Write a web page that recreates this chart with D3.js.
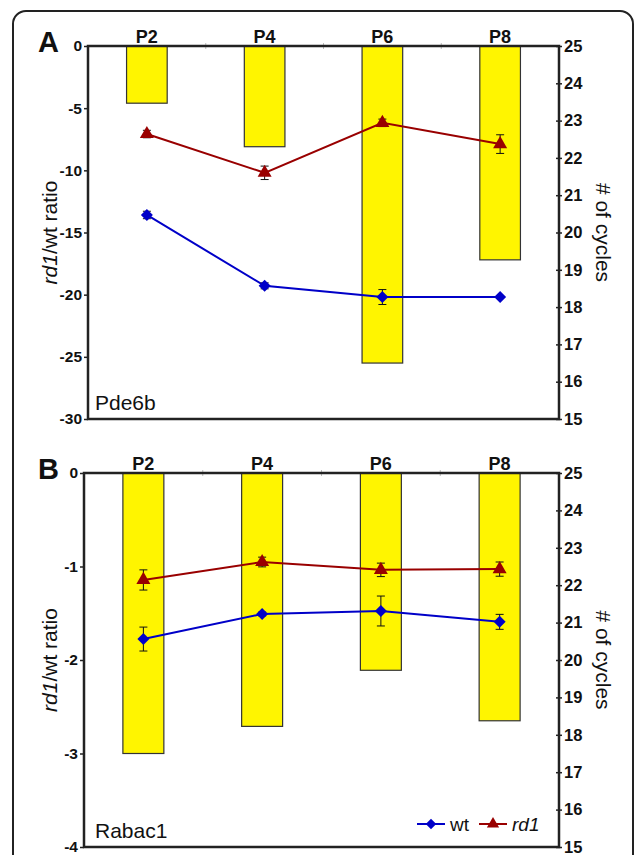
<!DOCTYPE html>
<html>
<head>
<meta charset="utf-8">
<script src="https://cdn.jsdelivr.net/npm/d3@7"></script>
<style>
  body { margin: 0; background: #fff; }
  svg { display: block; font-family: "Liberation Sans", Arial, sans-serif; }
</style>
</head>
<body>
<svg id="chart" width="635" height="855"></svg>
<script>
// qPCR: rd1/wt ratio (bars) and # of cycles (lines)

const stages = ['P2', 'P4', 'P6', 'P8'];
const cycleTicks = [15, 16, 17, 18, 19, 20, 21, 22, 23, 24, 25];

// Panel A - Pde6b
const pde6bRatio = [-4.6, -8.1, -25.5, -17.2];
const pde6bWt = [20.47, 18.57, 18.27, 18.27];
const pde6bWtErr = [0.1, 0.08, 0.2, 0];
const pde6bRd1 = [22.64, 21.6, 22.94, 22.37];
const pde6bRd1Err = [0.1, 0.18, 0.1, 0.25];
const ratioTicksA = [0, -5, -10, -15, -20, -25, -30];

// Panel B - Rabac1
const rabac1Ratio = [-3.0, -2.71, -2.11, -2.65];
const rabac1Wt = [20.56, 21.23, 21.31, 21.02];
const rabac1WtErr = [0.32, 0.05, 0.4, 0.2];
const rabac1Rd1 = [22.14, 22.62, 22.41, 22.43];
const rabac1Rd1Err = [0.27, 0.13, 0.18, 0.19];
const ratioTicksB = [0, -1, -2, -3, -4];

const WT_COLOR = '#0000c8';
const RD1_COLOR = '#990000';
const BAR_COLOR = '#fff500';
const FONT = '"Liberation Sans", Arial, sans-serif';

const svg = d3.select('#chart');

// outer rounded frame
svg.append('rect')
    .attr('x', 13).attr('y', 11)
    .attr('width', 620).attr('height', 870)
    .attr('rx', 13)
    .attr('fill', 'none')
    .attr('stroke', '#222')
    .attr('stroke-width', 2);

// diamond = square turned 45deg
function marker(shape, size) {
    const p = d3.symbol().type(shape === 'diamond' ? d3.symbolSquare : d3.symbolTriangle).size(size)();
    return { d: p, rot: shape === 'diamond' ? 45 : 0 };
}

function drawPanel(cfg) {
    const g = svg.append('g');

    const x = d3.scaleBand()
        .domain(stages)
        .range([cfg.left, cfg.right])
        .paddingInner(0.655)
        .paddingOuter(0.3275);

    const yL = d3.scaleLinear()
        .domain([d3.min(cfg.ratioTicks), 0])
        .range([cfg.bottom, cfg.top]);

    const yR = d3.scaleLinear()
        .domain([15, 25])
        .range([cfg.bottom, cfg.top]);

    const cx = d => x(d) + x.bandwidth() / 2;

    // faint tick marks at band boundaries on top edge
    const bw = (cfg.right - cfg.left) / stages.length;
    g.selectAll('.sep')
        .data(d3.range(1, stages.length))
        .enter().append('line')
        .attr('x1', i => cfg.left + i * bw)
        .attr('x2', i => cfg.left + i * bw)
        .attr('y1', cfg.top - 3)
        .attr('y2', cfg.top + 3)
        .attr('stroke', '#bbb')
        .attr('stroke-width', 1);

    // bars hanging from 0
    g.selectAll('.bar')
        .data(cfg.ratio)
        .enter().append('rect')
        .attr('x', (d, i) => x(stages[i]))
        .attr('y', yL(0))
        .attr('width', x.bandwidth())
        .attr('height', d => yL(d) - yL(0))
        .attr('fill', BAR_COLOR)
        .attr('stroke', '#333')
        .attr('stroke-width', 1.2);

    // plot frame
    g.append('rect')
        .attr('x', cfg.left).attr('y', cfg.top)
        .attr('width', cfg.right - cfg.left)
        .attr('height', cfg.bottom - cfg.top)
        .attr('fill', 'none')
        .attr('stroke', '#222')
        .attr('stroke-width', 2.5);

    // left axis
    const axL = g.append('g')
        .attr('transform', `translate(${cfg.left},0)`)
        .call(d3.axisLeft(yL).tickValues(cfg.ratioTicks).tickFormat(d => String(d))
            .tickSize(4).tickPadding(2));
    axL.select('.domain').remove();
    axL.selectAll('line').attr('stroke', '#222').attr('stroke-width', 1.5);
    axL.selectAll('text')
        .attr('font-size', 15.5)
        .attr('font-weight', 'bold')
        .attr('fill', '#111')
        .attr('font-family', FONT);

    // right axis
    const axR = g.append('g')
        .attr('transform', `translate(${cfg.right},0)`)
        .call(d3.axisRight(yR).tickValues(cycleTicks).tickFormat(d => String(d))
            .tickSize(3).tickPadding(2));
    axR.select('.domain').remove();
    axR.selectAll('line').attr('x1', -3).attr('stroke', '#222').attr('stroke-width', 1.5);
    axR.selectAll('text')
        .attr('font-size', 16.5)
        .attr('font-weight', 'bold')
        .attr('fill', '#111')
        .attr('font-family', FONT);

    // stage labels on top
    g.selectAll('.stage')
        .data(stages)
        .enter().append('text')
        .attr('x', d => cx(d))
        .attr('y', cfg.top - 3)
        .attr('text-anchor', 'middle')
        .attr('font-size', 18)
        .attr('font-weight', 'bold')
        .attr('fill', '#111')
        .text(d => d);

    // panel letter
    g.append('text')
        .attr('x', 38).attr('y', cfg.top + 6)
        .attr('font-size', 29)
        .attr('font-weight', 'bold')
        .attr('fill', '#111')
        .text(cfg.letter);

    // gene name
    g.append('text')
        .attr('x', 95).attr('y', cfg.bottom - 9)
        .attr('font-size', 21)
        .attr('fill', '#111')
        .text(cfg.gene);

    // left title
    const midY = (cfg.top + cfg.bottom) / 2;
    const tl = g.append('text')
        .attr('transform', `translate(57,${midY}) rotate(-90)`)
        .attr('text-anchor', 'middle')
        .attr('font-size', 21)
        .attr('fill', '#111');
    tl.append('tspan').attr('font-style', 'italic').text('rd1');
    tl.append('tspan').text('/wt ratio');

    // right title
    g.append('text')
        .attr('transform', `translate(596,${midY}) rotate(90)`)
        .attr('text-anchor', 'middle')
        .attr('font-size', 21)
        .attr('fill', '#111')
        .text('# of cycles');

    // series
    const series = [
        { vals: cfg.wt, err: cfg.wtErr, color: WT_COLOR, shape: 'diamond', size: 72 },
        { vals: cfg.rd1, err: cfg.rd1Err, color: RD1_COLOR, shape: 'triangle', size: 85 }
    ];

    series.forEach(s => {
        const line = d3.line()
            .x((d, i) => cx(stages[i]))
            .y(d => yR(d));

        g.append('path')
            .datum(s.vals)
            .attr('d', line)
            .attr('fill', 'none')
            .attr('stroke', s.color)
            .attr('stroke-width', 2);

        // error bars
        const eb = g.selectAll(null)
            .data(s.vals.map((v, i) => ({ v, e: s.err[i], st: stages[i] })).filter(d => d.e > 0))
            .enter().append('g')
            .attr('stroke', '#111')
            .attr('stroke-width', 1);
        eb.append('line')
            .attr('x1', d => cx(d.st)).attr('x2', d => cx(d.st))
            .attr('y1', d => yR(d.v - d.e)).attr('y2', d => yR(d.v + d.e));
        eb.append('line')
            .attr('x1', d => cx(d.st) - 4).attr('x2', d => cx(d.st) + 4)
            .attr('y1', d => yR(d.v - d.e)).attr('y2', d => yR(d.v - d.e));
        eb.append('line')
            .attr('x1', d => cx(d.st) - 4).attr('x2', d => cx(d.st) + 4)
            .attr('y1', d => yR(d.v + d.e)).attr('y2', d => yR(d.v + d.e));

        const m = marker(s.shape, s.size);
        g.selectAll(null)
            .data(s.vals)
            .enter().append('path')
            .attr('transform', (d, i) => `translate(${cx(stages[i])},${yR(d)}) rotate(${m.rot})`)
            .attr('d', m.d)
            .attr('fill', s.color);
    });

    if (cfg.legend) {
        const lg = g.append('g').attr('transform', `translate(417,${cfg.bottom - 23})`);
        const items = [
            { label: 'wt', italic: false, color: WT_COLOR, shape: 'diamond', size: 55 },
            { label: 'rd1', italic: true, color: RD1_COLOR, shape: 'triangle', size: 65 }
        ];
        let ox = 0;
        items.forEach(it => {
            const ig = lg.append('g').attr('transform', `translate(${ox},0)`);
            ig.append('line')
                .attr('x1', 0).attr('x2', 28)
                .attr('stroke', it.color).attr('stroke-width', 2);
            const m = marker(it.shape, it.size);
            ig.append('path')
                .attr('transform', `translate(14,0) rotate(${m.rot})`)
                .attr('d', m.d)
                .attr('fill', it.color);
            ig.append('text')
                .attr('x', 33).attr('y', 7)
                .attr('font-size', 19)
                .attr('font-style', it.italic ? 'italic' : 'normal')
                .attr('fill', '#111')
                .text(it.label);
            ox += 62;
        });
    }
}

drawPanel({
    letter: 'A', gene: 'Pde6b',
    left: 88, right: 559, top: 46, bottom: 419,
    ratio: pde6bRatio, ratioTicks: ratioTicksA,
    wt: pde6bWt, wtErr: pde6bWtErr,
    rd1: pde6bRd1, rd1Err: pde6bRd1Err,
    legend: false
});

drawPanel({
    letter: 'B', gene: 'Rabac1',
    left: 84, right: 559, top: 473, bottom: 847,
    ratio: rabac1Ratio, ratioTicks: ratioTicksB,
    wt: rabac1Wt, wtErr: rabac1WtErr,
    rd1: rabac1Rd1, rd1Err: rabac1Rd1Err,
    legend: true
});
</script>
</body>
</html>
